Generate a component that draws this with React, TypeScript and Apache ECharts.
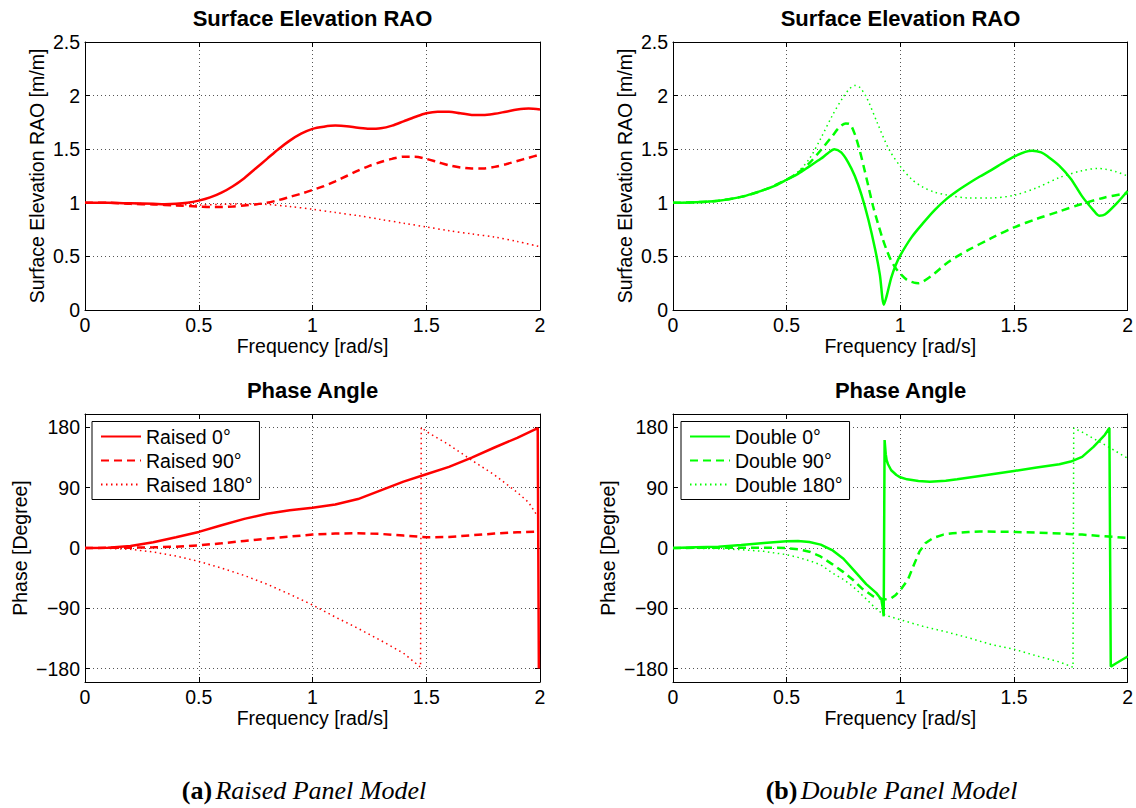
import React, { useEffect, useRef } from "react";
import * as echarts from "echarts";

const SANS = "'Liberation Sans', Arial, Helvetica, sans-serif";
const SERIF = "'Liberation Serif', 'Times New Roman', serif";
const RED = "#ff0000";
const GREEN = "#00ff00";

// Tick values
const phaseTicks = [-180, -90, 0, 90, 180];

// Legend / series names
const raisedNames = ["Raised 0°", "Raised 90°", "Raised 180°"];
const doubleNames = ["Double 0°", "Double 90°", "Double 180°"];

// Surface elevation RAO [m/m] vs frequency [rad/s] — raised panel
const raisedRao0 = [
  [0, 1.0], [0.1, 1.0], [0.2, 0.995], [0.3, 0.99], [0.35, 0.987], [0.4, 0.99], [0.45, 1.0],
  [0.5, 1.02], [0.55, 1.05], [0.6, 1.095], [0.65, 1.155], [0.7, 1.23], [0.75, 1.32], [0.8, 1.41],
  [0.85, 1.5], [0.9, 1.58], [0.95, 1.645], [1.0, 1.69], [1.05, 1.71], [1.1, 1.72], [1.15, 1.715],
  [1.2, 1.7], [1.25, 1.69], [1.3, 1.695], [1.35, 1.72], [1.4, 1.76], [1.45, 1.8], [1.5, 1.835],
  [1.55, 1.85], [1.6, 1.85], [1.65, 1.835], [1.7, 1.82], [1.75, 1.818], [1.8, 1.83], [1.85, 1.85],
  [1.9, 1.87], [1.95, 1.88], [2.0, 1.87],
];
const raisedRao90 = [
  [0, 1.0], [0.1, 1.0], [0.2, 0.99], [0.3, 0.985], [0.4, 0.975], [0.5, 0.965], [0.55, 0.96],
  [0.6, 0.96], [0.65, 0.965], [0.7, 0.975], [0.75, 0.985], [0.8, 1.0], [0.85, 1.025], [0.9, 1.055],
  [0.95, 1.085], [1.0, 1.12], [1.05, 1.155], [1.1, 1.2], [1.15, 1.25], [1.2, 1.3], [1.25, 1.345],
  [1.3, 1.38], [1.35, 1.41], [1.4, 1.43], [1.45, 1.43], [1.5, 1.41], [1.55, 1.38], [1.6, 1.35],
  [1.65, 1.33], [1.7, 1.32], [1.75, 1.32], [1.8, 1.335], [1.85, 1.36], [1.9, 1.39], [1.95, 1.42],
  [2.0, 1.45],
];
const raisedRao180 = [
  [0, 1.0], [0.2, 0.995], [0.4, 0.985], [0.5, 0.98], [0.6, 0.985], [0.7, 0.99], [0.8, 0.985],
  [0.9, 0.965], [1.0, 0.94], [1.1, 0.91], [1.2, 0.88], [1.3, 0.845], [1.4, 0.81], [1.5, 0.775],
  [1.6, 0.74], [1.7, 0.71], [1.8, 0.68], [1.9, 0.64], [2.0, 0.59],
];

// Surface elevation RAO — double panel
const doubleRao0 = [
  [0, 1.0], [0.1, 1.005], [0.2, 1.02], [0.3, 1.055], [0.4, 1.12], [0.45, 1.16], [0.5, 1.215],
  [0.55, 1.27], [0.6, 1.34], [0.65, 1.41], [0.68, 1.46], [0.71, 1.5], [0.74, 1.47], [0.77, 1.38],
  [0.8, 1.25], [0.83, 1.07], [0.86, 0.84], [0.89, 0.56], [0.91, 0.33], [0.928, 0.05], [0.94, 0.13],
  [0.96, 0.3], [0.98, 0.42], [1.0, 0.51], [1.05, 0.68], [1.1, 0.81], [1.15, 0.93], [1.2, 1.03],
  [1.25, 1.11], [1.3, 1.18], [1.35, 1.245], [1.4, 1.305], [1.45, 1.37], [1.5, 1.43], [1.55, 1.475],
  [1.58, 1.485], [1.62, 1.47], [1.65, 1.43], [1.7, 1.345], [1.75, 1.225], [1.8, 1.06], [1.85, 0.93],
  [1.875, 0.88], [1.9, 0.89], [1.95, 0.99], [2.0, 1.11],
];
const doubleRao90 = [
  [0, 1.0], [0.1, 1.005], [0.2, 1.02], [0.3, 1.055], [0.4, 1.12], [0.5, 1.215], [0.55, 1.28],
  [0.6, 1.37], [0.65, 1.49], [0.7, 1.62], [0.73, 1.7], [0.76, 1.74], [0.78, 1.73], [0.8, 1.64],
  [0.82, 1.5], [0.84, 1.33], [0.86, 1.15], [0.88, 0.97], [0.9, 0.82], [0.92, 0.68], [0.94, 0.56],
  [0.96, 0.46], [0.98, 0.39], [1.0, 0.34], [1.03, 0.28], [1.06, 0.255], [1.08, 0.25], [1.1, 0.265],
  [1.15, 0.34], [1.2, 0.43], [1.25, 0.5], [1.3, 0.56], [1.4, 0.67], [1.5, 0.77], [1.6, 0.85],
  [1.7, 0.92], [1.8, 0.99], [1.9, 1.05], [2.0, 1.09],
];
const doubleRao180 = [
  [0, 1.0], [0.1, 1.005], [0.2, 1.02], [0.3, 1.055], [0.4, 1.12], [0.5, 1.22], [0.55, 1.29],
  [0.6, 1.41], [0.65, 1.6], [0.7, 1.81], [0.75, 1.99], [0.78, 2.07], [0.8, 2.095], [0.82, 2.08],
  [0.85, 1.99], [0.9, 1.74], [0.95, 1.5], [1.0, 1.34], [1.05, 1.22], [1.1, 1.145], [1.15, 1.1],
  [1.2, 1.075], [1.3, 1.045], [1.4, 1.045], [1.5, 1.07], [1.6, 1.14], [1.7, 1.235], [1.8, 1.3],
  [1.87, 1.32], [1.9, 1.315], [1.95, 1.29], [2.0, 1.25],
];

// Phase angle [degree] — raised panel
const raisedPhase0 = [
  [0, 0], [0.1, 0.5], [0.2, 3], [0.3, 8.5], [0.4, 16], [0.5, 24], [0.6, 34], [0.7, 43.5],
  [0.8, 51], [0.9, 56.5], [1.0, 60], [1.1, 65], [1.2, 73], [1.3, 86], [1.4, 99], [1.5, 110],
  [1.6, 121], [1.7, 135], [1.8, 150], [1.9, 164.5], [1.99, 179], [1.995, -180],
];
const raisedPhase90 = [
  [0, 0], [0.2, 0.5], [0.3, 1], [0.4, 2], [0.5, 4], [0.6, 7], [0.7, 10.5], [0.8, 14], [0.9, 17],
  [1.0, 20], [1.1, 21.5], [1.2, 22], [1.3, 21], [1.4, 18.5], [1.5, 16], [1.6, 16.5], [1.7, 19],
  [1.8, 21.5], [1.9, 23.5], [1.99, 24.5],
];
const raisedPhase180 = [
  [0, 0], [0.1, -0.5], [0.2, -2], [0.3, -6], [0.4, -12], [0.5, -20], [0.6, -30], [0.7, -41],
  [0.8, -54], [0.9, -69], [1.0, -85], [1.1, -103], [1.2, -120], [1.3, -138], [1.4, -157],
  [1.475, -178], [1.478, 180], [1.5, 174], [1.6, 154], [1.7, 131], [1.8, 109], [1.9, 83],
  [1.95, 68], [1.99, 47],
];

// Phase angle — double panel
const doublePhase0 = [
  [0, 0], [0.1, 1], [0.2, 2], [0.3, 4.5], [0.4, 7.5], [0.5, 10], [0.55, 10.5], [0.6, 9],
  [0.65, 5], [0.7, -3], [0.75, -16], [0.8, -35], [0.85, -54], [0.894, -67], [0.917, -77],
  [0.923, -90], [0.927, -102], [0.931, 161], [0.936, 140], [0.94, 131], [0.946, 125], [0.96, 116],
  [0.983, 109], [1.0, 105.5], [1.03, 102.5], [1.08, 100], [1.13, 99], [1.2, 100.5], [1.25, 102.5],
  [1.35, 107.5], [1.5, 115], [1.6, 120], [1.7, 125], [1.75, 129], [1.8, 136], [1.85, 151],
  [1.9, 169], [1.92, 179], [1.926, -177], [1.95, -172], [2.0, -162],
];
const doublePhase90 = [
  [0, 0], [0.2, 0.5], [0.4, 0.5], [0.5, 0], [0.55, -2], [0.6, -5.5], [0.646, -12], [0.7, -24],
  [0.75, -36], [0.79, -47], [0.83, -60], [0.88, -72], [0.93, -77], [0.96, -75], [0.98, -70],
  [1.0, -63], [1.034, -47], [1.06, -25], [1.085, -5], [1.11, 7], [1.144, 15], [1.19, 20],
  [1.23, 22], [1.3, 24], [1.35, 24.6], [1.5, 24], [1.6, 23], [1.74, 21], [1.8, 20], [1.9, 17.5],
  [2.0, 15],
];
const doublePhase180 = [
  [0, 0], [0.2, -1], [0.3, -2.5], [0.4, -5], [0.5, -10], [0.55, -14], [0.6, -19], [0.65, -25],
  [0.7, -37], [0.75, -47], [0.79, -57], [0.85, -76], [0.888, -89], [0.917, -97], [0.95, -102],
  [1.0, -107], [1.1, -117], [1.2, -125], [1.3, -134], [1.4, -144], [1.5, -151], [1.6, -161],
  [1.7, -170], [1.76, -178], [1.763, 179], [1.8, 173], [1.9, 154], [2.0, 134],
];

// Layout of the four axes boxes (left, top) — each 455 x 268 px
const boxes = [
  { left: 85, top: 42 },
  { left: 673, top: 42 },
  { left: 85, top: 414 },
  { left: 673, top: 414 },
];
const BOX_W = 455;
const BOX_H = 268;
const FS = 19.5;

const axisLineStyle = { show: true, onZero: false, lineStyle: { color: "#000", width: 1 } };
const tickStyle = { show: true, inside: true, length: 5, lineStyle: { color: "#000", width: 1 } };
const gridLine = { show: true, lineStyle: { color: "#555", width: 1, type: [1, 3] } };
const labelText = { color: "#000", fontSize: FS, fontFamily: SANS };
const nameText = { color: "#000", fontSize: FS, fontFamily: SANS };

const minusSign = (v: number) => String(v).replace("-", "\u2212");

function makeXAxes(g: number) {
  const common = { type: "value", gridIndex: g, min: 0, max: 2, interval: 0.5 };
  return [
    {
      ...common,
      position: "bottom",
      name: "Frequency [rad/s]",
      nameLocation: "middle",
      nameGap: 26,
      nameTextStyle: nameText,
      axisLine: axisLineStyle,
      axisTick: tickStyle,
      axisLabel: { ...labelText, margin: 5 },
      splitLine: gridLine,
    },
    {
      ...common,
      position: "top",
      axisLine: axisLineStyle,
      axisTick: tickStyle,
      axisLabel: { show: false },
      splitLine: { show: false },
    },
  ];
}

function makeRaoYAxes(g: number) {
  const common = { type: "value", gridIndex: g, min: 0, max: 2.5, interval: 0.5 };
  return [
    {
      ...common,
      position: "left",
      name: "Surface Elevation RAO [m/m]",
      nameLocation: "middle",
      nameGap: 38,
      nameTextStyle: nameText,
      axisLine: axisLineStyle,
      axisTick: tickStyle,
      axisLabel: { ...labelText, margin: 5 },
      splitLine: gridLine,
    },
    {
      ...common,
      position: "right",
      axisLine: axisLineStyle,
      axisTick: tickStyle,
      axisLabel: { show: false },
      splitLine: { show: false },
    },
  ];
}

function makePhaseYAxes(g: number) {
  const common = { type: "value", gridIndex: g, min: -200, max: 200 };
  return [
    {
      ...common,
      position: "left",
      name: "Phase [Degree]",
      nameLocation: "middle",
      nameGap: 55,
      nameTextStyle: nameText,
      axisLine: axisLineStyle,
      axisTick: { ...tickStyle, customValues: phaseTicks },
      axisLabel: { ...labelText, margin: 5, customValues: phaseTicks, formatter: minusSign },
      splitLine: gridLine,
    },
    {
      ...common,
      position: "right",
      axisLine: axisLineStyle,
      axisTick: { ...tickStyle, customValues: phaseTicks },
      axisLabel: { show: false },
      splitLine: { show: false },
    },
  ];
}

const styles = [
  { width: 2.5, type: "solid" },
  { width: 2.5, type: [8, 5] },
  { width: 1.5, type: [1.5, 3.5] },
];

function makeSeries(
  g: number,
  names: string[],
  sets: number[][][],
  color: string,
  smooth: number | boolean
) {
  return sets.map((data, i) => ({
    type: "line",
    name: names[i],
    xAxisIndex: g * 2,
    yAxisIndex: g * 2,
    data,
    symbol: "none",
    showSymbol: false,
    smooth,
    clip: true,
    lineStyle: { color, width: styles[i].width, type: styles[i].type },
    itemStyle: { color },
    z: 3 - i,
  }));
}

function makeLegend(names: string[], left: number, top: number) {
  return {
    data: names,
    orient: "vertical",
    left,
    top,
    itemWidth: 40,
    itemHeight: 14,
    itemGap: 4,
    padding: [5, 7, 5, 8],
    borderColor: "#000",
    borderWidth: 1,
    borderRadius: 0,
    backgroundColor: "#fff",
    selectedMode: false,
    // line-only keys: hide the marker drawn over the line sample
    itemStyle: { opacity: 0 },
    textStyle: { color: "#000", fontSize: FS, fontFamily: SANS },
  };
}

function titleText(text: string, x: number, y: number) {
  return {
    type: "text",
    x,
    y,
    style: {
      text,
      fill: "#000",
      font: `bold 22px ${SANS}`,
      align: "center",
      verticalAlign: "middle",
      textAlign: "center",
      textVerticalAlign: "middle",
    },
  };
}

function captionText(tag: string, label: string, x: number, y: number) {
  return {
    type: "text",
    x,
    y,
    style: {
      text: `{b|${tag}} {i|${label}}`,
      fill: "#000",
      align: "center",
      verticalAlign: "middle",
      textAlign: "center",
      textVerticalAlign: "middle",
      rich: {
        b: { fontFamily: SERIF, fontWeight: "bold", fontSize: 26, fill: "#000" },
        i: { fontFamily: SERIF, fontStyle: "italic", fontSize: 26, fill: "#000" },
      },
    },
  };
}

export default function App() {
  const ref = useRef<HTMLDivElement>(null);

  useEffect(() => {
    if (!ref.current) return;
    const chart = echarts.init(ref.current, null, { renderer: "svg" });

    const option = {
      animation: false,
      backgroundColor: "#fff",
      grid: boxes.map((b) => ({
        left: b.left,
        top: b.top,
        width: BOX_W,
        height: BOX_H,
        containLabel: false,
      })),
      xAxis: [...makeXAxes(0), ...makeXAxes(1), ...makeXAxes(2), ...makeXAxes(3)],
      yAxis: [
        ...makeRaoYAxes(0),
        ...makeRaoYAxes(1),
        ...makePhaseYAxes(2),
        ...makePhaseYAxes(3),
      ],
      legend: [makeLegend(raisedNames, 92, 421.5), makeLegend(doubleNames, 681, 421.5)],
      series: [
        ...makeSeries(0, raisedNames, [raisedRao0, raisedRao90, raisedRao180], RED, 0.3),
        ...makeSeries(1, doubleNames, [doubleRao0, doubleRao90, doubleRao180], GREEN, 0.3),
        ...makeSeries(2, raisedNames, [raisedPhase0, raisedPhase90, raisedPhase180], RED, false),
        ...makeSeries(3, doubleNames, [doublePhase0, doublePhase90, doublePhase180], GREEN, false),
      ],
      graphic: [
        titleText("Surface Elevation RAO", 312.5, 18.5),
        titleText("Surface Elevation RAO", 900.5, 18.5),
        titleText("Phase Angle", 312.5, 390.5),
        titleText("Phase Angle", 900.5, 390.5),
        captionText("(a)", "Raised Panel Model", 304, 790),
        captionText("(b)", "Double Panel Model", 891.5, 790),
      ],
    };

    chart.setOption(option as any);
    return () => chart.dispose();
  }, []);

  return (
    <div
      ref={ref}
      style={{ position: "absolute", left: 0, top: 0, width: 1136, height: 808, background: "#fff" }}
    />
  );
}
